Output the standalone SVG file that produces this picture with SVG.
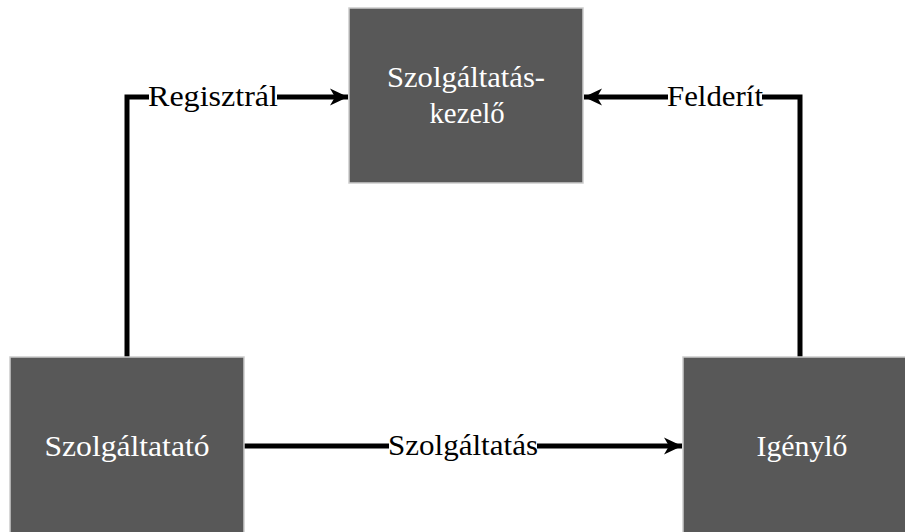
<svg xmlns="http://www.w3.org/2000/svg" width="905" height="532" viewBox="0 0 905 532">
<style>
.box{fill:#585858;stroke:#cccccc;stroke-width:1.5}
.ln{fill:none;stroke:#000;stroke-width:5}
.ar{marker-end:url(#ah)}
</style>
<defs>
<marker id="ah" markerUnits="userSpaceOnUse" markerWidth="20" markerHeight="20" refX="18" refY="10" orient="auto">
<path d="M0,1.5 L18,10 L0,18.5 L5,10 Z" fill="#000"/>
</marker>
</defs>
<rect width="905" height="532" fill="#fff"/>
<g id="connectors">
<path class="ln" d="M127,357 V97 H149"/>
<path class="ln ar" d="M277,97 H348"/>
<path class="ln" d="M800,357 V97 H762"/>
<path class="ln ar" d="M668,97 H584"/>
<path class="ln" d="M244,446 H389"/>
<path class="ln ar" d="M537,446 H682"/>
<text x="213" y="106" font-family="Liberation Serif" font-size="29" fill="#000" text-anchor="middle" textLength="130" lengthAdjust="spacingAndGlyphs" style="font-family:'Liberation Serif',serif">Regisztrál</text>
<text x="715" y="106" font-family="Liberation Serif" font-size="29" fill="#000" text-anchor="middle" textLength="96" lengthAdjust="spacingAndGlyphs" style="font-family:'Liberation Serif',serif">Felderít</text>
<text x="463" y="455" font-family="Liberation Serif" font-size="29" fill="#000" text-anchor="middle" textLength="150" lengthAdjust="spacingAndGlyphs" style="font-family:'Liberation Serif',serif">Szolgáltatás</text>
</g>
<g id="kezelo">
<rect class="box" x="349" y="8" width="234" height="175"/>
<text x="466" y="87" font-family="Liberation Serif" font-size="29" fill="#fff" text-anchor="middle" textLength="158" lengthAdjust="spacingAndGlyphs" style="font-family:'Liberation Serif',serif">Szolgáltatás-</text>
<text x="467" y="123" font-family="Liberation Serif" font-size="29" fill="#fff" text-anchor="middle" textLength="75" lengthAdjust="spacingAndGlyphs" style="font-family:'Liberation Serif',serif">kezelő</text>
</g>
<g id="szolgaltato">
<rect class="box" x="10" y="357" width="234" height="190"/>
<text x="127" y="456" font-family="Liberation Serif" font-size="29" fill="#fff" text-anchor="middle" textLength="165" lengthAdjust="spacingAndGlyphs" style="font-family:'Liberation Serif',serif">Szolgáltatató</text>
</g>
<g id="igenylo">
<rect class="box" x="683" y="357" width="234" height="190"/>
<text x="802" y="456" font-family="Liberation Serif" font-size="29" fill="#fff" text-anchor="middle" textLength="91" lengthAdjust="spacingAndGlyphs" style="font-family:'Liberation Serif',serif">Igénylő</text>
</g>
</svg>
